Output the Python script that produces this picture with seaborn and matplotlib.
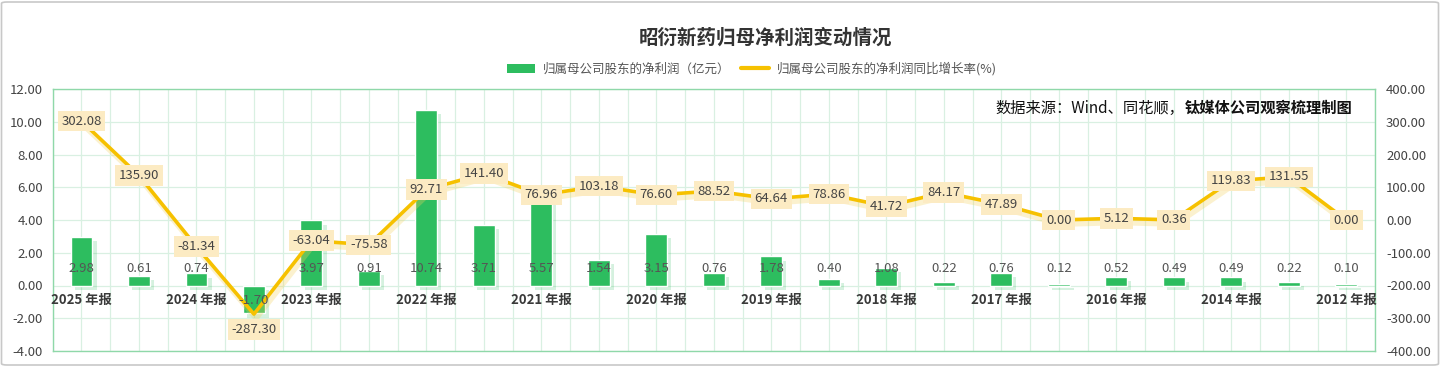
import matplotlib
matplotlib.use('Agg')
import matplotlib.pyplot as plt
import matplotlib.patheffects as pe
from matplotlib.patches import Patch, FancyBboxPatch
from matplotlib.lines import Line2D
import numpy as np
import pandas as pd
import seaborn as sns

# data (newest report first)
periods = ['2025 年报', 'p01', '2024 年报', 'p03', '2023 年报', 'p05', '2022 年报', 'p07',
           '2021 年报', 'p09', '2020 年报', 'p11', '2019 年报', 'p13', '2018 年报', 'p15',
           '2017 年报', 'p17', '2016 年报', '2015 年报', '2014 年报', '2013 年报', '2012 年报']
shown_labels = ['2025 年报', '', '2024 年报', '', '2023 年报', '', '2022 年报', '',
                '2021 年报', '', '2020 年报', '', '2019 年报', '', '2018 年报', '',
                '2017 年报', '', '2016 年报', '', '2014 年报', '', '2012 年报']
net_profit = [2.98, 0.61, 0.74, -1.70, 3.97, 0.91, 10.74, 3.71, 5.57, 1.54, 3.15, 0.76,
              1.78, 0.40, 1.08, 0.22, 0.76, 0.12, 0.52, 0.49, 0.49, 0.22, 0.10]
yoy_growth = [302.08, 135.90, -81.34, -287.30, -63.04, -75.58, 92.71, 141.40, 76.96, 103.18,
              76.60, 88.52, 64.64, 78.86, 41.72, 84.17, 47.89, 0.00, 5.12, 0.36,
              119.83, 131.55, 0.00]

bar_name = '归属母公司股东的净利润（亿元）'
line_name = '归属母公司股东的净利润同比增长率(%)'
title = '昭衍新药归母净利润变动情况'

GREEN = '#2dbd5f'
GOLD = '#f6c100'
GRID = '#d9f0e2'
FRAME = '#8fd8a9'
TXT = '#444444'

sns.set_style('white')
plt.rcParams['font.family'] = ['Noto Sans CJK SC', 'DejaVu Sans']
plt.rcParams['axes.unicode_minus'] = False

df = pd.DataFrame({'period': periods, 'profit': net_profit, 'growth': yoy_growth})
df['pos'] = np.arange(len(df))

fig = plt.figure(figsize=(14.4, 3.67), dpi=100)
W, H = 1440, 367
ax = fig.add_axes([52.7 / W, 1 - 351 / H, (1375 - 52.7) / W, (351 - 89) / H])

sns.barplot(data=df, x='period', y='profit', color=GREEN, saturation=1, width=0.38,
            ax=ax, zorder=3)
for p in ax.patches:
    p.set_path_effects([pe.SimplePatchShadow(offset=(3, -3), shadow_rgbFace=GREEN, alpha=0.2),
                        pe.Normal()])

ax.set_xlim(-0.5, len(df) - 0.5)
ax.set_ylim(-4, 12)
ax.set_yticks(np.arange(-4, 12.1, 2))
ax.set_yticklabels([f'{v:.2f}' for v in np.arange(-4, 12.1, 2)])
ax.set_xticks(np.arange(len(df)))
ax.set_xticks(np.arange(-0.5, len(df), 1.0), minor=True)
ax.set_xticklabels([])
ax.set_xlabel('')
ax.set_ylabel('')
ax.grid(True, which='both', axis='x', color=GRID, lw=0.9, zorder=0)
ax.grid(True, which='major', axis='y', color=GRID, lw=0.9, zorder=0)
ax.set_axisbelow(True)
ax.tick_params(axis='both', which='both', length=0, labelsize=9.5, colors=TXT)
ax.tick_params(axis='y', pad=7)
for s in ax.spines.values():
    s.set_color(FRAME)
    s.set_linewidth(1.0)

ax2 = ax.twinx()
sns.lineplot(data=df, x='pos', y='growth', color=GOLD, lw=2.6, ax=ax2, zorder=4)
for ln in ax2.lines:
    ln.set_path_effects([pe.SimpleLineShadow(offset=(1.5, -3), shadow_color='#f4d25e', alpha=0.3,
                                             linewidth=4),
                         pe.Normal()])
ax2.set_ylim(-400, 400)
ax2.set_yticks(np.arange(-400, 401, 100))
ax2.set_yticklabels([f'{v:.2f}' for v in np.arange(-400, 401, 100)])
ax2.set_xlim(-0.5, len(df) - 0.5)
ax2.set_xlabel('')
ax2.set_ylabel('')
ax2.tick_params(axis='y', length=0, labelsize=9.5, colors=TXT, pad=8)
for s in ax2.spines.values():
    s.set_visible(False)

# category labels sitting on the zero line
for i, lab in enumerate(shown_labels):
    if lab:
        ax2.annotate(lab, xy=(i, 0), xycoords=ax.transData, xytext=(0, -10.5),
                     textcoords='offset points', ha='center', va='center',
                     fontsize=9.5, fontweight='bold', color='#3a3a3a', zorder=6)

# bar value labels (inside bottom of each bar)
for i, v in enumerate(net_profit):
    base = 0 if v >= 0 else v
    ax2.annotate(f'{v:.2f}', xy=(i, base), xycoords=ax.transData, xytext=(0, 12.5 if v >= 0 else 9.5),
                 textcoords='offset points', ha='center', va='center',
                 fontsize=9.5, color='#555555', zorder=6)

# growth labels with pale boxes
low = min(yoy_growth)
for i, v in enumerate(yoy_growth):
    dy = -11 if v == low else 0
    ax2.annotate(f'{v:.2f}', xy=(i, v), xytext=(0, dy), textcoords='offset points',
                 ha='center', va='center', fontsize=9.5, color='#444444', zorder=8,
                 bbox=dict(boxstyle='square,pad=0.28', fc='#fcebc3', ec='none'))

fig.text(765 / W, 1 - 38 / H, title, ha='center', va='center', fontsize=14,
         fontweight='bold', color='#333333')

handles = [Patch(facecolor=GREEN, edgecolor='none'), Line2D([], [], color=GOLD, lw=3)]
fig.legend(handles, [bar_name, line_name], loc='center', bbox_to_anchor=(752 / W, 1 - 69 / H),
           ncol=2, frameon=False, fontsize=9, handlelength=2.2, handleheight=0.7,
           handletextpad=0.65, columnspacing=0.9, labelcolor='#555555')

src_b = fig.text(1352 / W, 1 - 108 / H, '钛媒体公司观察梳理制图', ha='right', va='center',
                 fontsize=11, fontweight='bold', color='#111111', zorder=9)
ax2.annotate('数据来源：Wind、同花顺，', xy=(0, 0.5), xycoords=src_b, ha='right', va='center',
             fontsize=11, color='#111111', zorder=9)

fig.patches.append(FancyBboxPatch((1.5 / W, 2 / H), 1 - 3 / W, 1 - 4 / H,
                                  boxstyle='round,pad=0,rounding_size=0.004',
                                  transform=fig.transFigure, fc='none', ec='#c8c8c8', lw=1.2))

fig.savefig('out.png', dpi=100)
